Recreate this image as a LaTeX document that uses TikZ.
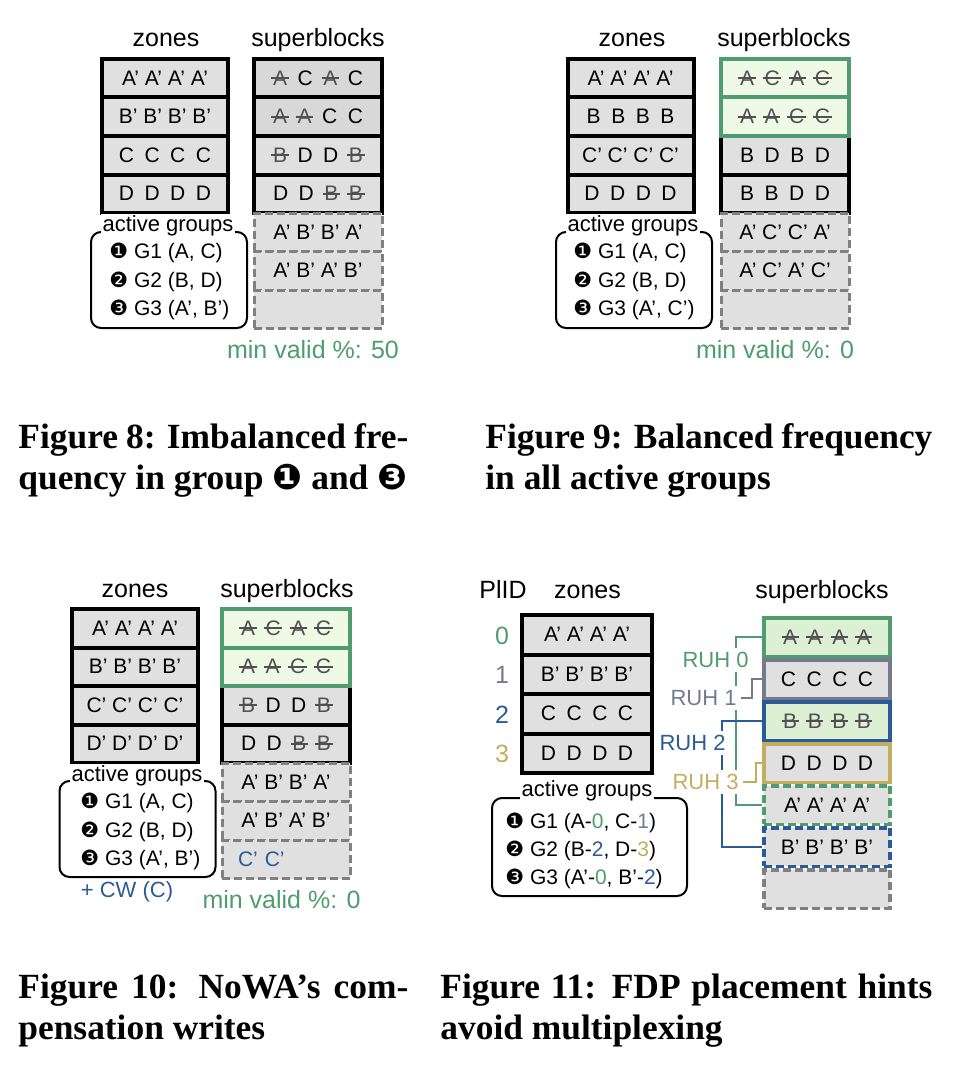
\documentclass[tikz,border=0pt]{standalone}
\usepackage{fontspec}
\setmainfont{Liberation Sans}
\newfontfamily\capfont{Liberation Serif}
\newfontfamily\dingfont{DejaVu Sans}
\usepackage{xcolor}
\usetikzlibrary{positioning}

\definecolor{cellgray}{HTML}{E0E0E0}
\definecolor{cellgrayd}{HTML}{D8D8D8}
\definecolor{dashgray}{HTML}{808080}
\definecolor{strk}{HTML}{505050}
\definecolor{gcfill}{HTML}{EEF9E6}
\definecolor{gcfillb}{HTML}{DDF0D4}
\definecolor{ruhgreen}{HTML}{4E9C70}
\definecolor{ruhgray}{HTML}{767A8E}
\definecolor{ruhblue}{HTML}{2A5B96}
\definecolor{ruhgold}{HTML}{C2AE5E}

\newcommand{\stk}[1]{\textcolor{strk}{\setbox0\hbox{#1}\rlap{\kern-0.08em\rule[0.3em]{\dimexpr\wd0+0.16em\relax}{0.09em}}\box0}}
\newcommand{\gp}{\hspace{0.5em}}
\newcommand{\dg}[1]{{\dingfont #1}}

\tikzset{
  cell/.style={draw, line width=2pt, fill=cellgray, minimum width=63pt, minimum height=19.25pt, inner sep=0pt, outer sep=0pt, font=\fontsize{10.5}{12}\selectfont},
  sbcell/.style={cell, minimum width=64pt},
  freecell/.style={sbcell, draw=dashgray, line width=1.5pt, dash pattern=on 4pt off 2pt},
  gccell/.style={sbcell, draw=ruhgreen, fill=gcfill},
  zcell/.style={cell, minimum width=65pt, minimum height=19.75pt},
  hcell/.style={draw, line width=1.75pt, fill=cellgray, minimum width=63pt, minimum height=19.25pt, inner sep=0pt, font=\fontsize{10.5}{12}\selectfont},
  title/.style={font=\fontsize{12.5}{14}\selectfont, anchor=base},
  groupbox/.style={draw, line width=1pt, rounded corners=5pt, minimum width=78pt, minimum height=48pt},
  grouptitle/.style={fill=white, inner sep=1pt, font=\fontsize{11}{13}\selectfont},
  groupline/.style={anchor=west, inner sep=0pt, font=\fontsize{10.5}{12}\selectfont},
  minvalid/.style={text=ruhgreen, font=\fontsize{12.5}{14}\selectfont},
  pid/.style={font=\fontsize{12.5}{14}\selectfont},
  ruhlabel/.style={fill=white, inner sep=2pt, font=\fontsize{11}{13}\selectfont},
  ruhline/.style={line width=1pt},
  caption/.style={anchor=base west, inner sep=0pt, font=\capfont\bfseries\fontsize{17.7}{20.5}\selectfont}
}

\begin{document}
\begin{tikzpicture}[x=0.5pt, y=-0.5pt]
\useasboundingbox (0,0) rectangle (966,1070);

% Figure 8
\node[title] (zt8) at (166,47) {zones};
\node[title] (st8) at (318,47) {superblocks};
\node[cell] (z8a) at (165,78.25) {A’ A’ A’ A’};
\node[cell, below=0pt of z8a] (z8b) {B’ B’ B’ B’};
\node[cell, below=0pt of z8b] (z8c) {C\gp C\gp C\gp C};
\node[cell, below=0pt of z8c] (z8d) {D\gp D\gp D\gp D};
\node[sbcell, fill=cellgrayd] (s8a) at (318,78.25) {\stk{A}\gp C\gp\stk{A}\gp C};
\node[sbcell, fill=cellgrayd, below=0pt of s8a] (s8b) {\stk{A}\gp\stk{A}\gp C\gp C};
\node[sbcell, below=0pt of s8b] (s8c) {\stk{B}\gp D\gp D\gp\stk{B}};
\node[sbcell, below=0pt of s8c] (s8d) {D\gp D\gp\stk{B}\gp\stk{B}};
\node[freecell, below=0pt of s8d] (s8e) {A’ B’ B’ A’};
\node[freecell, below=0pt of s8e] (s8f) {A’ B’ A’ B’};
\node[freecell, below=0pt of s8f] (s8g) {};
\node[groupbox] (ag8) at (169,280) {};
\node[grouptitle] (agt8) at (168,226) {active groups};
\node[groupline] (g8a) at (109,253) {\dg{❶} G1 (A, C)};
\node[groupline] (g8b) at (109,282) {\dg{❷} G2 (B, D)};
\node[groupline] (g8c) at (109,310) {\dg{❸} G3 (A’, B’)};
\node[minvalid] (mv8) at (313,350) {min valid \%: 50};
\node[caption] (c8a) at (18,448) {\makebox[195pt][s]{Figure 8: Imbalanced fre-}};
\node[caption] (c8b) at (18,489) {quency in group \dg{❶} and \dg{❸}};

% Figure 9
\node[title] (zt9) at (632,47) {zones};
\node[title] (st9) at (784,47) {superblocks};
\node[cell] (z9a) at (630.5,78.25) {A’ A’ A’ A’};
\node[cell, below=0pt of z9a] (z9b) {B\gp B\gp B\gp B};
\node[cell, below=0pt of z9b] (z9c) {C’ C’ C’ C’};
\node[cell, below=0pt of z9c] (z9d) {D\gp D\gp D\gp D};
\node[sbcell] (s9c) at (785,155.25) {B\gp D\gp B\gp D};
\node[sbcell, below=0pt of s9c] (s9d) {B\gp B\gp D\gp D};
\node[freecell, below=0pt of s9d] (s9e) {A’ C’ C’ A’};
\node[freecell, below=0pt of s9e] (s9f) {A’ C’ A’ C’};
\node[freecell, below=0pt of s9f] (s9g) {};
\node[gccell, above=0pt of s9c] (s9b) {\stk{A}\gp\stk{A}\gp\stk{C}\gp\stk{C}};
\node[gccell, above=0pt of s9b] (s9a) {\stk{A}\gp\stk{C}\gp\stk{A}\gp\stk{C}};
\node[groupbox] (ag9) at (634,280) {};
\node[grouptitle] (agt9) at (633,226) {active groups};
\node[groupline] (g9a) at (573,253) {\dg{❶} G1 (A, C)};
\node[groupline] (g9b) at (573,282) {\dg{❷} G2 (B, D)};
\node[groupline] (g9c) at (573,310) {\dg{❸} G3 (A’, C’)};
\node[minvalid] (mv9) at (775,350) {min valid \%: 0};
\node[caption] (c9a) at (485,448) {\makebox[223.5pt][s]{Figure 9: Balanced frequency}};
\node[caption] (c9b) at (485,489) {in all active groups};

% Figure 10
\node[title] (zt10) at (135,597) {zones};
\node[title] (st10) at (287,597) {superblocks};
\node[cell] (z10a) at (135,628.25) {A’ A’ A’ A’};
\node[cell, below=0pt of z10a] (z10b) {B’ B’ B’ B’};
\node[cell, below=0pt of z10b] (z10c) {C’ C’ C’ C’};
\node[cell, below=0pt of z10c] (z10d) {D’ D’ D’ D’};
\node[sbcell] (s10c) at (286,705.25) {\stk{B}\gp D\gp D\gp\stk{B}};
\node[sbcell, below=0pt of s10c] (s10d) {D\gp D\gp\stk{B}\gp\stk{B}};
\node[freecell, below=0pt of s10d] (s10e) {A’ B’ B’ A’};
\node[freecell, below=0pt of s10e] (s10f) {A’ B’ A’ B’};
\node[freecell, below=0pt of s10f, text width=48pt, inner xsep=8pt, align=left, text=ruhblue] (s10g) {C’ C’};
\node[gccell, above=0pt of s10c] (s10b) {\stk{A}\gp\stk{A}\gp\stk{C}\gp\stk{C}};
\node[gccell, above=0pt of s10b] (s10a) {\stk{A}\gp\stk{C}\gp\stk{A}\gp\stk{C}};
\node[groupbox] (ag10) at (137.5,829) {};
\node[grouptitle] (agt10) at (137,776) {active groups};
\node[groupline] (g10a) at (80,803) {\dg{❶} G1 (A, C)};
\node[groupline] (g10b) at (80,832) {\dg{❷} G2 (B, D)};
\node[groupline] (g10c) at (80,860) {\dg{❸} G3 (A’, B’)};
\node[text=ruhblue, font=\fontsize{11}{13}\selectfont] (cw10) at (127,892) {+ CW (C)};
\node[minvalid] (mv10) at (281.5,900) {min valid \%: 0};
\node[caption] (c10a) at (18,998) {\makebox[195pt][s]{Figure 10: NoWA’s com-}};
\node[caption] (c10b) at (18,1039) {pensation writes};

% Figure 11
\node[title] (pt11) at (503,598) {PlID};
\node[title] (zt11) at (587.5,598) {zones};
\node[title] (st11) at (822,598) {superblocks};
\node[zcell] (z11a) at (587,634.75) {A’ A’ A’ A’};
\node[zcell, below=0pt of z11a] (z11b) {B’ B’ B’ B’};
\node[zcell, below=0pt of z11b] (z11c) {C\gp C\gp C\gp C};
\node[zcell, below=0pt of z11c] (z11d) {D\gp D\gp D\gp D};
\node[pid, text=ruhgreen] (p0) at (502,636) {0};
\node[pid, text=ruhgray] (p1) at (502,675) {1};
\node[pid, text=ruhblue] (p2) at (502,715) {2};
\node[pid, text=ruhgold] (p3) at (502,754) {3};
\node[hcell, draw=ruhgreen, fill=gcfillb] (s11a) at (827,637) {\stk{A}\gp\stk{A}\gp\stk{A}\gp\stk{A}};
\node[hcell, draw=ruhgray, below=0pt of s11a] (s11b) {C\gp C\gp C\gp C};
\node[hcell, draw=ruhblue, fill=gcfillb, below=0pt of s11b] (s11c) {\stk{B}\gp\stk{B}\gp\stk{B}\gp\stk{B}};
\node[hcell, draw=ruhgold, below=0pt of s11c] (s11d) {D\gp D\gp D\gp D};
\node[hcell, draw=ruhgreen, dash pattern=on 4pt off 2pt, below=0pt of s11d] (s11e) {A’ A’ A’ A’};
\node[hcell, draw=ruhblue, dash pattern=on 4pt off 2pt, below=0pt of s11e] (s11f) {B’ B’ B’ B’};
\node[hcell, draw=dashgray, dash pattern=on 4pt off 2pt, below=0pt of s11f] (s11g) {};
\coordinate (h1) at (741,698);
\coordinate (h3) at (743,782);
\draw[ruhline, ruhgreen] (s11a.west) -- ++(-26,0) |- (s11e.west);
\draw[ruhline, ruhgray] (s11b.west) -- ++(-10,0) |- (h1);
\draw[ruhline, ruhblue] (s11c.west) -- ++(-40,0) |- (s11f.west);
\draw[ruhline, ruhgold] (s11d.west) -- ++(-6,0) |- (h3);
\node[ruhlabel, text=ruhgreen] (ruh0) at (715.5,660) {RUH 0};
\node[ruhlabel, text=ruhgray, anchor=east] (ruh1) at (h1) {RUH 1};
\node[ruhlabel, text=ruhblue] (ruh2) at (692.5,743) {RUH 2};
\node[ruhlabel, text=ruhgold, anchor=east] (ruh3) at (h3) {RUH 3};
\node[groupbox, minimum width=97.5pt, minimum height=49pt] (ag11) at (589.5,847) {};
\node[grouptitle] (agt11) at (587,791) {active groups};
\node[groupline] (g11a) at (505,823) {\dg{❶} G1 (A-\textcolor{ruhgreen}{0}, C-\textcolor{ruhgray}{1})};
\node[groupline] (g11b) at (505,851) {\dg{❷} G2 (B-\textcolor{ruhblue}{2}, D-\textcolor{ruhgold}{3})};
\node[groupline] (g11c) at (505,879) {\dg{❸} G3 (A’-\textcolor{ruhgreen}{0}, B’-\textcolor{ruhblue}{2})};
\node[caption] (c11a) at (440,998) {\makebox[246pt][s]{Figure 11: FDP placement hints}};
\node[caption] (c11b) at (440,1039) {avoid multiplexing};
\end{tikzpicture}
\end{document}
